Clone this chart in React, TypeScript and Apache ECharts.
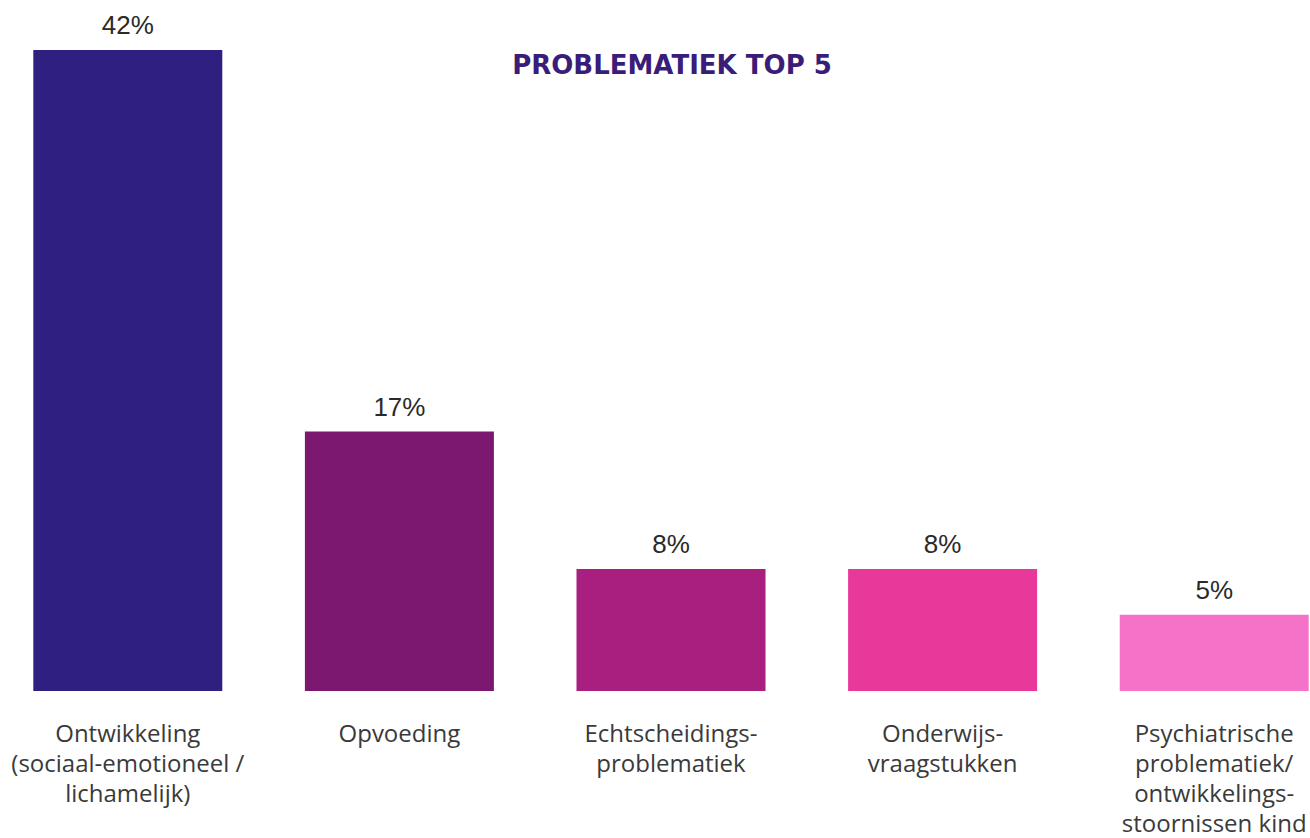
import React, { useEffect, useRef } from "react";
import * as echarts from "echarts";

const categories = [
  "Ontwikkeling\n(sociaal-emotioneel /\nlichamelijk)",
  "Opvoeding",
  "Echtscheidings-\nproblematiek",
  "Onderwijs-\nvraagstukken",
  "Psychiatrische\nproblematiek/\nontwikkelings-\nstoornissen kind",
];
const values = [42, 17, 8, 8, 5];
const barColors = ["#2f1f80", "#7c186f", "#a81f7f", "#e8399b", "#f473c9"];
const title = "PROBLEMATIEK TOP 5";

export default function App() {
  const ref = useRef<HTMLDivElement>(null);
  useEffect(() => {
    if (!ref.current) return;
    const chart = echarts.init(ref.current, null, { renderer: "svg" });
    chart.setOption({
      animation: false,
      backgroundColor: "#ffffff",
      title: {
        text: title,
        left: 667,
        top: 47,
        textAlign: "center",
        textStyle: {
          fontFamily: "DejaVu Sans",
          fontWeight: "bold",
          fontSize: 26,
          color: "#3a1d78",
        },
      },
      grid: { left: -8, width: 1358, top: 50, bottom: 147, outerBoundsMode: "none", containLabel: false },
      xAxis: {
        type: "category",
        data: categories,
        axisLine: { show: false },
        axisTick: { show: false },
        axisLabel: {
          interval: 0,
          margin: 26,
          fontFamily: "Open Sans",
          fontSize: 24,
          lineHeight: 30,
          color: "#3a3a3a",
          verticalAlign: "top",
        },
      },
      yAxis: {
        type: "value",
        min: 0,
        max: 42,
        show: false,
        splitLine: { show: false },
      },
      series: [
        {
          type: "bar",
          barWidth: 189,
          data: values.map((v, i) => ({ value: v, itemStyle: { color: barColors[i] } })),
          label: {
            show: true,
            position: "top",
            distance: 12,
            formatter: "{c}%",
            fontFamily: "Liberation Sans",
            fontSize: 26,
            color: "#2a2a2a",
          },
        },
      ],
    });
    return () => chart.dispose();
  }, []);
  return (
    <div
      ref={ref}
      style={{ position: "absolute", left: 0, top: 0, width: 1310, height: 838 }}
    />
  );
}
